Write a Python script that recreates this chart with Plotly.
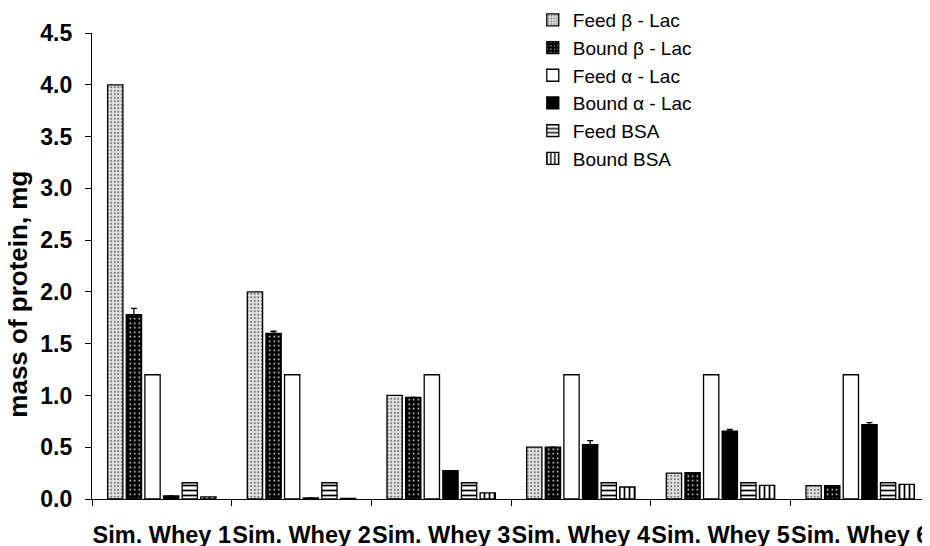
import plotly.graph_objects as go

categories = ["Sim. Whey 1", "Sim. Whey 2", "Sim. Whey 3", "Sim. Whey 4", "Sim. Whey 5", "Sim. Whey 6"]

feed_beta = [4.0, 2.0, 1.0, 0.5, 0.25, 0.13]
bound_beta = [1.78, 1.6, 0.98, 0.5, 0.255, 0.128]
bound_beta_err = [0.06, 0.02, 0.0, 0.0, 0.0, 0.0]
feed_alpha = [1.2, 1.2, 1.2, 1.2, 1.2, 1.2]
bound_alpha = [0.03, 0.01, 0.273, 0.524, 0.656, 0.717]
bound_alpha_err = [0.0, 0.0, 0.0, 0.04, 0.016, 0.02]
feed_bsa = [0.157, 0.157, 0.157, 0.157, 0.157, 0.157]
bound_bsa = [0.02, 0.006, 0.06, 0.116, 0.131, 0.141]

series_names = ["Feed β - Lac", "Bound β - Lac", "Feed α - Lac", "Bound α - Lac", "Feed BSA", "Bound BSA"]

FONT = "Arial, Liberation Sans, sans-serif"
line = dict(color="black", width=1.3)

fig = go.Figure()

fig.add_trace(go.Bar(
    name=series_names[0], x=categories, y=feed_beta,
    marker=dict(color="#e6e6e6", line=line,
                pattern=dict(shape=".", fgcolor="#777777", bgcolor="#e6e6e6", size=3.5, solidity=0.3, fillmode="replace")),
))
fig.add_trace(go.Bar(
    name=series_names[1], x=categories, y=bound_beta,
    error_y=dict(type="data", array=bound_beta_err, arrayminus=[0]*6, color="black", thickness=1.3, width=3),
    marker=dict(color="black", line=line,
                pattern=dict(shape=".", fgcolor="white", bgcolor="black", size=4.5, solidity=0.1, fillmode="replace")),
))
fig.add_trace(go.Bar(
    name=series_names[2], x=categories, y=feed_alpha,
    marker=dict(color="white", line=line),
))
fig.add_trace(go.Bar(
    name=series_names[3], x=categories, y=bound_alpha,
    error_y=dict(type="data", array=bound_alpha_err, arrayminus=[0]*6, color="black", thickness=1.3, width=3),
    marker=dict(color="black", line=line),
))
fig.add_trace(go.Bar(
    name=series_names[4], x=categories, y=feed_bsa,
    marker=dict(color="white", line=line,
                pattern=dict(shape="-", fgcolor="black", bgcolor="white", size=5, solidity=0.35, fillmode="replace")),
))
fig.add_trace(go.Bar(
    name=series_names[5], x=categories, y=bound_bsa,
    marker=dict(color="white", line=line,
                pattern=dict(shape="|", fgcolor="black", bgcolor="white", size=5, solidity=0.35, fillmode="replace")),
))

fig.update_layout(
    width=922, height=538,
    margin=dict(l=84, r=0, t=25, b=47, autoexpand=False),
    paper_bgcolor="white", plot_bgcolor="white",
    barmode="group", bargap=0.2, bargroupgap=0.18,
    font=dict(family=FONT, color="black"),
    showlegend=True,
    legend=dict(
        x=0.526, xanchor="left", xref="paper",
        y=1.0687, yanchor="top", yref="paper",
        font=dict(family=FONT, size=19, color="black"),
        bgcolor="rgba(0,0,0,0)", borderwidth=0,
    ),
    xaxis=dict(
        showline=True, linecolor="black", linewidth=1.3,
        ticks="outside", ticklen=6, tickcolor="black", tickwidth=1.3,
        tickson="boundaries", automargin=False, tickangle=0,
        tickfont=dict(family=FONT, size=23.5, color="black", weight="bold"),
        ticklabelstandoff=15,
        showgrid=False, zeroline=False,
    ),
    yaxis=dict(
        range=[0, 4.5], dtick=0.5, tickformat=".1f", automargin=False,
        showline=True, linecolor="black", linewidth=1.3,
        ticks="outside", ticklen=6, tickcolor="black", tickwidth=1.3,
        tickfont=dict(family=FONT, size=23, color="black", weight="bold"),
        ticklabelstandoff=8,
        showgrid=False, zeroline=False,
    ),
    annotations=[dict(
        text="mass of protein, mg", textangle=-90,
        xref="paper", yref="paper", x=-0.088, y=0.439,
        xanchor="center", yanchor="middle", showarrow=False,
        font=dict(family=FONT, size=26, color="black", weight="bold"),
    )],
)

fig.write_html("out.html")
